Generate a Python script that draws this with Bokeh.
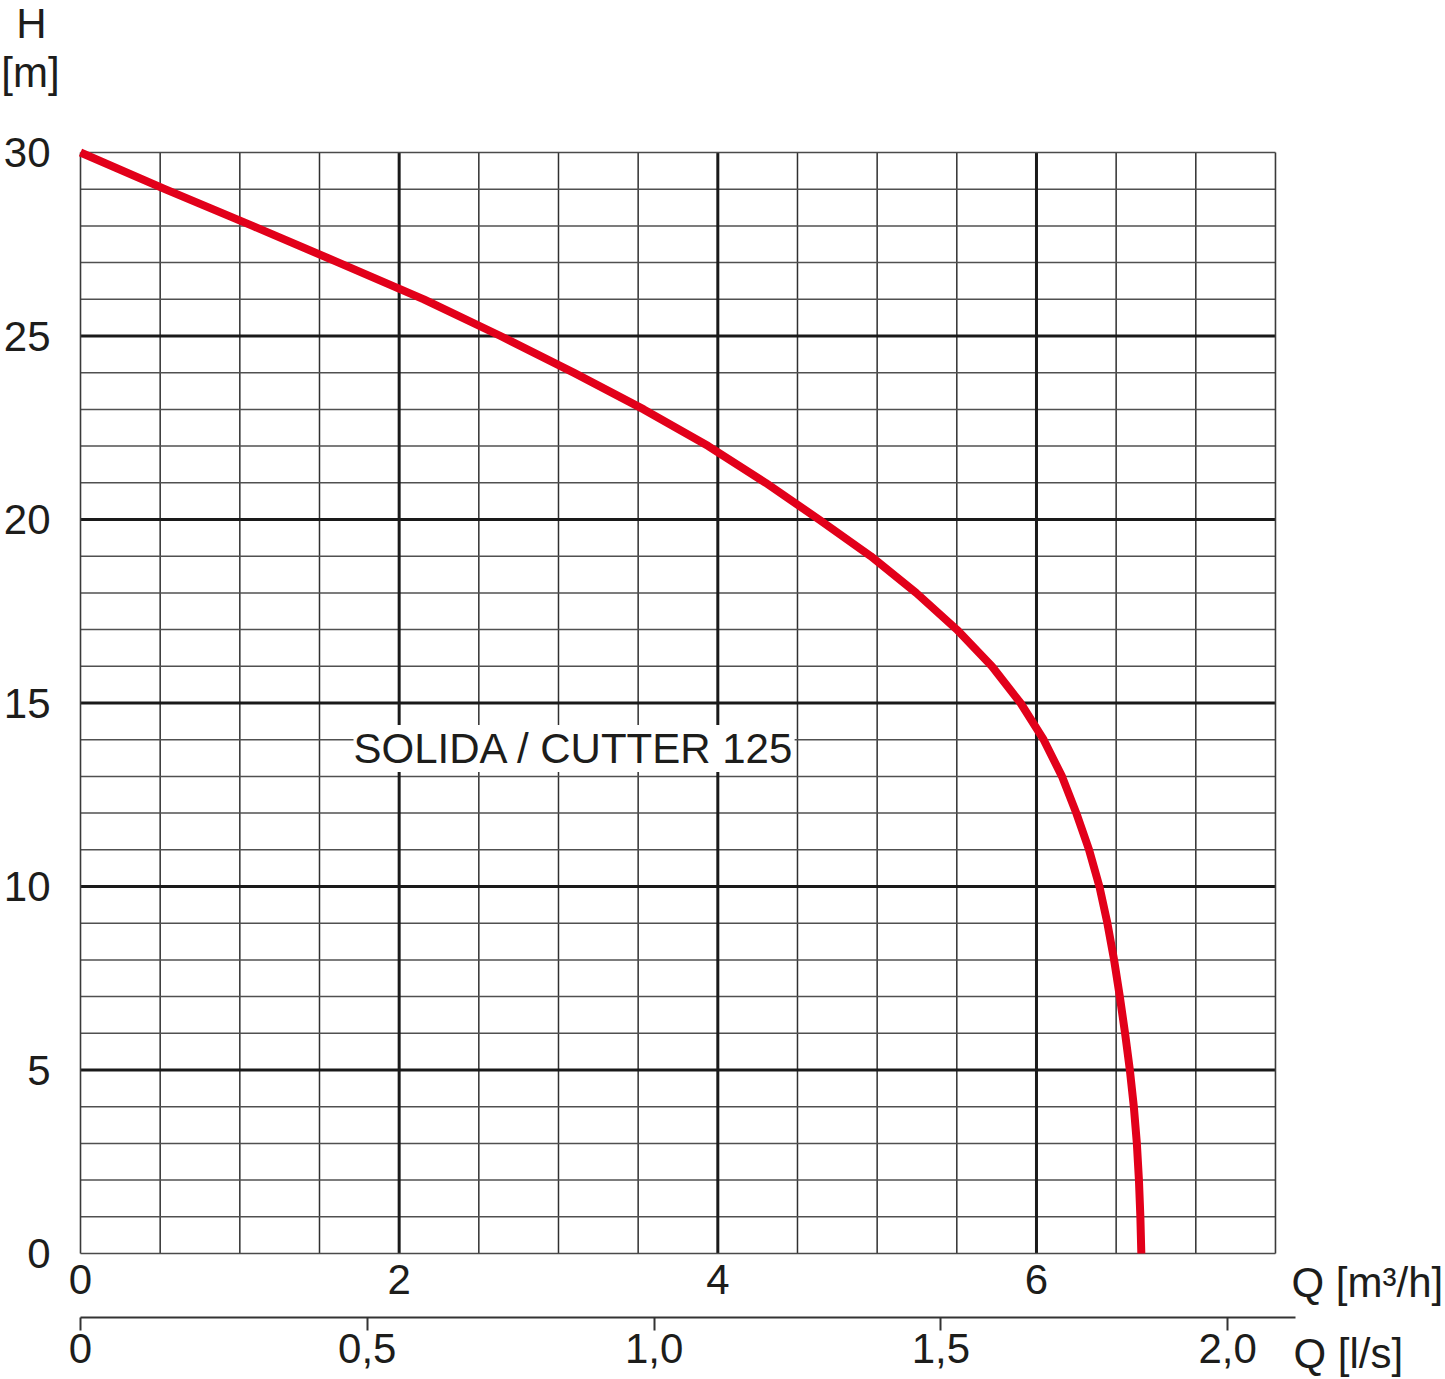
from bokeh.plotting import figure
from bokeh.models import Range1d, LinearAxis, FixedTicker, Label
from bokeh.embed import file_html
from bokeh.resources import INLINE

# ---------------- data ----------------
# pump curve: flow Q [m3/h] and head H [m]
q_m3h = [0.0, 0.53, 1.08, 1.62, 2.155, 2.636, 3.095, 3.535, 3.94, 4.30, 4.635,
         4.96, 5.245, 5.50, 5.72, 5.90, 6.045, 6.16, 6.25, 6.33, 6.395,
         6.445, 6.487, 6.523, 6.556, 6.586, 6.611, 6.63, 6.643, 6.652, 6.658]
h_m = [30, 29, 28, 27, 26, 25, 24, 23, 22, 21, 20, 19, 18, 17, 16, 15, 14, 13,
       12, 11, 10, 9, 8, 7, 6, 5, 4, 3, 2, 1, 0]

q_max = 7.5
h_max = 30.0
q_ticks = [0, 2, 4, 6]
q_grid_major = [2, 4, 6]
q_grid_minor = [0.5, 1, 1.5, 2.5, 3, 3.5, 4.5, 5, 5.5, 6.5, 7]
q_border = [0, 7.5]
h_ticks = [0, 5, 10, 15, 20, 25, 30]
h_grid_major = [5, 10, 15, 20, 25]
h_grid_minor = [1, 2, 3, 4, 6, 7, 8, 9, 11, 12, 13, 14, 16, 17, 18, 19,
                21, 22, 23, 24, 26, 27, 28, 29]
h_border = [0, 30]
ls_ticks = [0, 0.5, 1.0, 1.5, 2.0]
ls_labels = ["0", "0,5", "1,0", "1,5", "2,0"]
m3h_per_ls = 3.6
curve_name = "SOLIDA / CUTTER 125"

# ---------------- layout (page pixels) ----------------
PAGE_W, PAGE_H = 1445, 1379
PX_X0, PX_PER_Q = 80.0, 159.33
PX_Y0, PX_PER_H = 1253.0, 36.7
LABEL_DY = 15  # correction between wanted baseline and rendered baseline


def dx(px):
    return (px - PX_X0) / PX_PER_Q


def dy(py):
    return (PX_Y0 - py) / PX_PER_H


FONT = "Liberation Sans"
FS = "42px"
INK = "#1d1d1b"
MAJOR = "#1a1a1a"
MINOR_V = "#2f2f2f"
MINOR_H = "#505050"

p = figure(width=PAGE_W, height=PAGE_H, title=None,
           x_range=Range1d(dx(0), dx(PAGE_W)),
           y_range=Range1d(dy(PAGE_H), dy(0)),
           output_backend="svg", toolbar_location=None,
           min_border=0, min_border_left=0, min_border_right=0,
           min_border_top=0, min_border_bottom=0,
           outline_line_color=None, background_fill_color="white",
           border_fill_color="white")
p.xgrid.visible = False
p.ygrid.visible = False

# grid lines
p.segment(x0=q_grid_minor, x1=q_grid_minor, y0=0, y1=h_max,
          line_color=MINOR_V, line_width=1.5)
p.segment(x0=0, x1=q_max, y0=h_grid_minor, y1=h_grid_minor,
          line_color=MINOR_H, line_width=1.5)
p.segment(x0=q_grid_major, x1=q_grid_major, y0=0, y1=h_max,
          line_color=MAJOR, line_width=3)
p.segment(x0=0, x1=q_max, y0=h_grid_major, y1=h_grid_major,
          line_color=MAJOR, line_width=3)
p.segment(x0=q_border, x1=q_border, y0=0, y1=h_max,
          line_color="#3a3a3a", line_width=1.6)
p.segment(x0=0, x1=q_max, y0=h_border, y1=h_border,
          line_color="#4a4a4a", line_width=1.6)

# pump curve
p.line(q_m3h, h_m, line_color="#e2001a", line_width=8, line_join="round")

# primary x axis (m3/h)
xa = p.xaxis[0]
xa.fixed_location = 0
xa.ticker = FixedTicker(ticks=q_ticks)
xa.axis_line_color = None
xa.major_tick_line_color = None
xa.minor_tick_line_color = None
xa.major_label_text_font = FONT
xa.major_label_text_font_size = FS
xa.major_label_text_color = INK
xa.major_label_standoff = 5

# y axis
ya = p.yaxis[0]
ya.fixed_location = 0
ya.ticker = FixedTicker(ticks=h_ticks)
ya.axis_line_color = None
ya.major_tick_line_color = None
ya.minor_tick_line_color = None
ya.major_label_text_font = FONT
ya.major_label_text_font_size = FS
ya.major_label_text_color = INK
ya.major_label_standoff = 24

# secondary x axis (l/s)
p.extra_x_ranges = {"ls": Range1d(dx(0) / m3h_per_ls, dx(PAGE_W) / m3h_per_ls)}
ax2 = LinearAxis(x_range_name="ls", ticker=FixedTicker(ticks=ls_ticks),
                 major_label_overrides=dict(zip(ls_ticks, ls_labels)),
                 fixed_location=dy(1317),
                 bounds=(0, dx(1295) / m3h_per_ls))
ax2.axis_line_color = "#333333"
ax2.axis_line_width = 2
ax2.major_tick_line_color = "#333333"
ax2.major_tick_line_width = 2
ax2.major_tick_out = 13
ax2.major_tick_in = 0
ax2.minor_tick_line_color = None
ax2.major_label_text_font = FONT
ax2.major_label_text_font_size = FS
ax2.major_label_text_color = INK
ax2.major_label_standoff = 3
p.add_layout(ax2, "below")


# texts
def lab(px, py, text, align="left", bg=None):
    l = Label(x=dx(px), y=dy(py - LABEL_DY), text=text, text_font=FONT,
              text_font_size=FS, text_color=INK, text_align=align,
              text_baseline="alphabetic")
    if bg:
        l.background_fill_color = bg
    p.add_layout(l)


lab(31, 38, "H", align="center")
lab(30, 87, "[m]", align="center")
lab(1291, 1297, "Q [m³/h]")
lab(1293, 1368, "Q [l/s]")
lab(353, 763, curve_name, bg="white")

open("out.html", "w").write(file_html(p, INLINE))
